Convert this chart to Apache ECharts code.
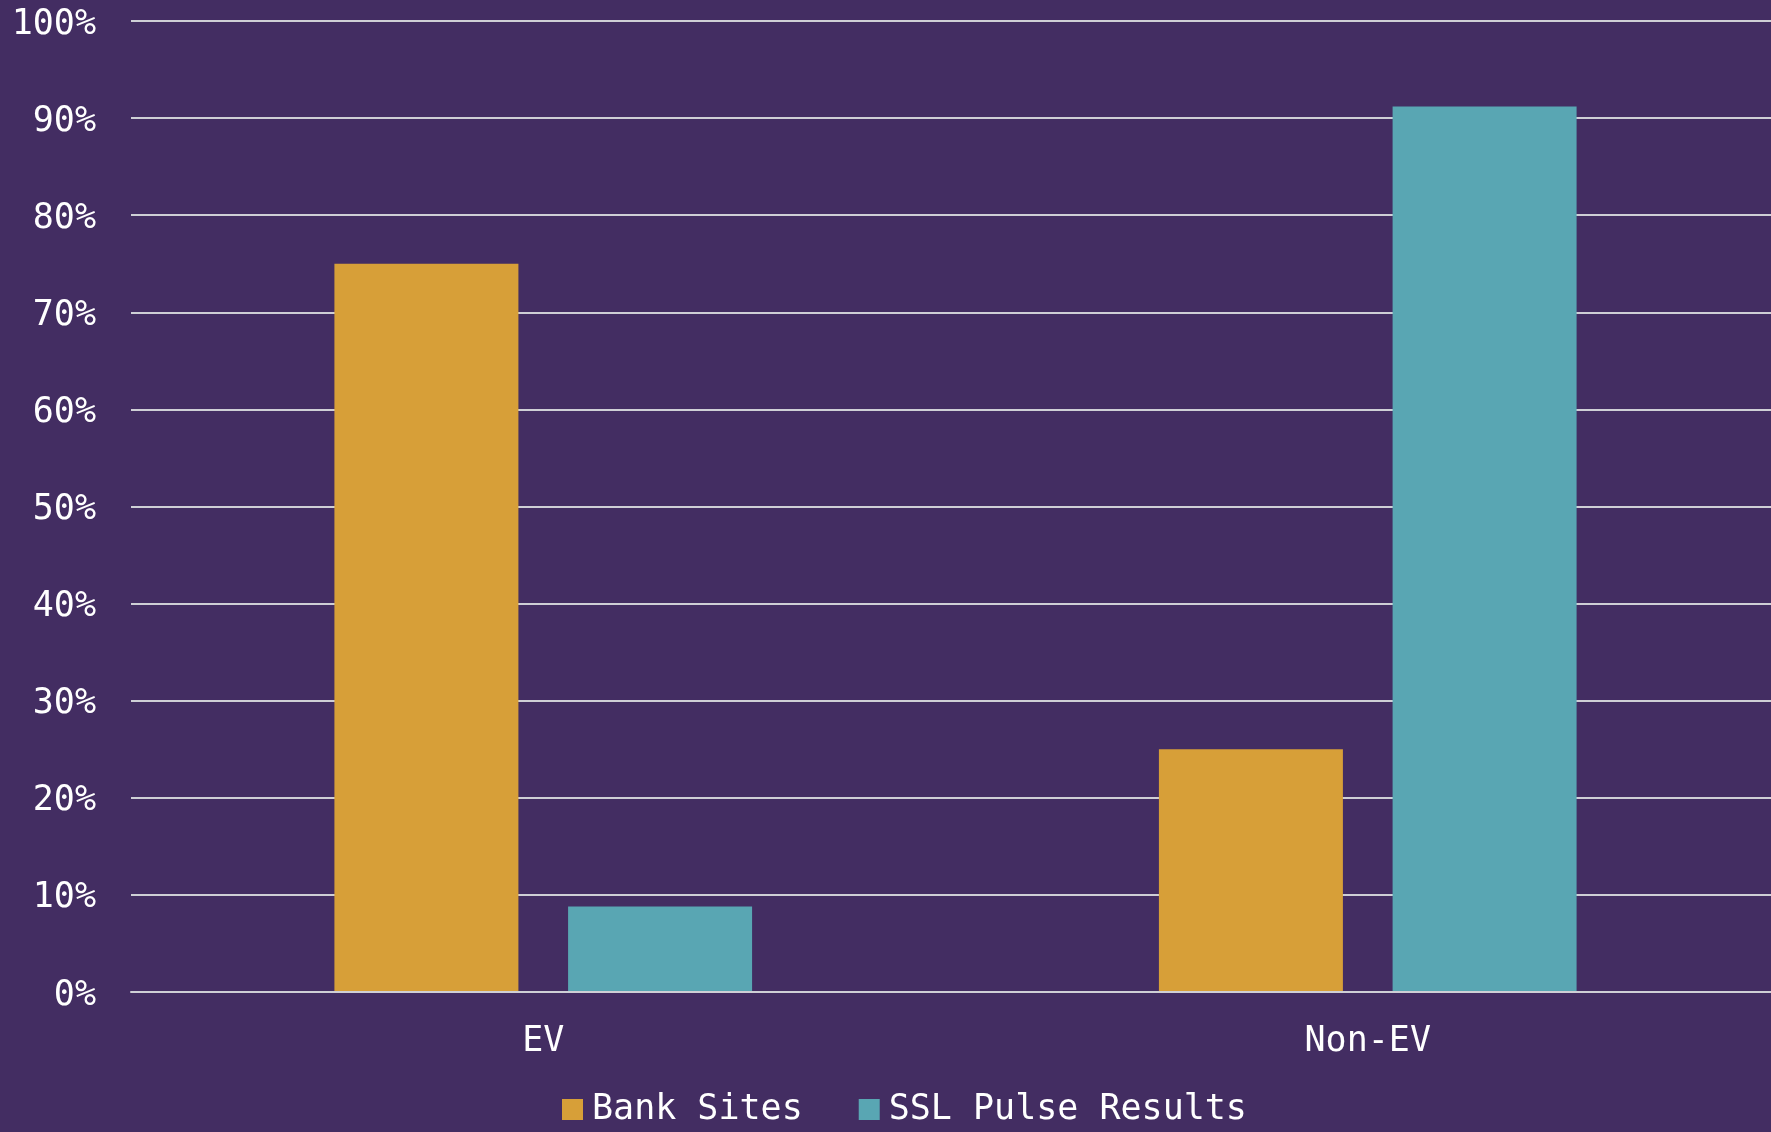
<!DOCTYPE html>
<html>
<head>
<meta charset="utf-8">
<title>EV vs Non-EV certificates</title>
<script src="https://cdn.jsdelivr.net/npm/echarts@6/dist/echarts.min.js"></script>
<style>
  html, body { margin: 0; padding: 0; background: #432d62; overflow: hidden; }
  /* the drawing surface is a few pixels wider than the window, so the plot runs off the right edge */
  #chart { width: 1780px; height: 1132px; }
</style>
</head>
<body>
<div id="chart"></div>
<script>
// Certificate type shares (percent)
const categories = ['EV', 'Non-EV'];
const bankSites = [75, 25];
const sslPulse = [8.8, 91.2];
const seriesNames = ['Bank Sites', 'SSL Pulse Results'];

const FONT = '"DejaVu Sans Mono", monospace';
const gridColor = '#cfcfd6';

const chart = echarts.init(document.getElementById('chart'));
chart.setOption({
  backgroundColor: '#432d62',
  animation: false,
  textStyle: { fontFamily: FONT, color: '#ffffff' },
  legend: {
    data: seriesNames,
    left: 557,
    top: 1087,
    itemWidth: 21,
    itemHeight: 21,
    itemGap: 56,
    icon: 'rect',
    textStyle: { fontFamily: FONT, fontSize: 35, color: '#ffffff', padding: [0, 0, 0, 4] }
  },
  grid: { left: 131, right: 0, top: 21, bottom: 140, containLabel: false },
  xAxis: {
    type: 'category',
    data: categories,
    z: 5,
    axisLine: { show: true, lineStyle: { color: gridColor, width: 2 } },
    axisTick: { show: false },
    axisLabel: { fontFamily: FONT, fontSize: 35, color: '#ffffff', margin: 32 }
  },
  yAxis: {
    type: 'value',
    min: 0,
    max: 100,
    interval: 10,
    axisLine: { show: false },
    axisTick: { show: false },
    splitLine: { lineStyle: { color: gridColor, width: 2 } },
    axisLabel: {
      color: '#ffffff', margin: 35,
      formatter: '{t|{value}%}',
      rich: { t: { fontFamily: FONT, fontSize: 35, color: '#ffffff', padding: [7, 0, 0, 0] } }
    }
  },
  series: [
    {
      name: seriesNames[0],
      type: 'bar',
      data: bankSites,
      barWidth: 184,
      barGap: '27%',
      itemStyle: { color: '#d79f38' }
    },
    {
      name: seriesNames[1],
      type: 'bar',
      data: sslPulse,
      barWidth: 184,
      itemStyle: { color: '#59a6b3' }
    }
  ]
});
</script>
</body>
</html>
